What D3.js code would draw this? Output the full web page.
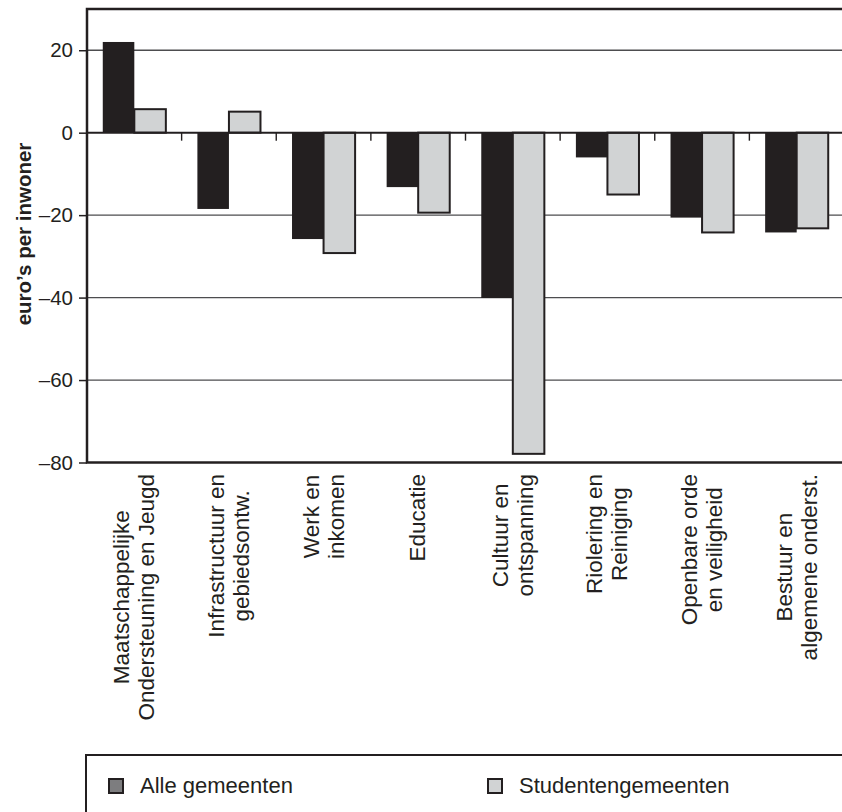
<!DOCTYPE html>
<html>
<head>
<meta charset="utf-8">
<script src="https://cdn.jsdelivr.net/npm/d3@7"></script>
<style>
  body { margin: 0; background: #fff; }
  svg { display: block; font-family: "Liberation Sans", Arial, sans-serif; }
</style>
</head>
<body>
<svg width="842" height="812"></svg>
<script>
// categories, one entry per group, split over the label lines
const categories = [
  ['Maatschappelijke', 'Ondersteuning en Jeugd'],
  ['Infrastructuur en', 'gebiedsontw.'],
  ['Werk en', 'inkomen'],
  ['Educatie'],
  ['Cultuur en', 'ontspanning'],
  ['Riolering en', 'Reiniging'],
  ['Openbare orde', 'en veiligheid'],
  ['Bestuur en', 'algemene onderst.']
];
const alleGemeenten = [22, -18.5, -25.8, -13.2, -40.1, -6, -20.6, -24.2];
const studentengemeenten = [5.7, 5.1, -29.2, -19.4, -77.9, -15, -24.2, -23.2];
const seriesNames = ['Alle gemeenten', 'Studentengemeenten'];
const yTicks = [20, 0, -20, -40, -60, -80];
const gridValues = [20, -20, -40, -60];

const svg = d3.select('svg');
const ink = '#231f20';
const plotLeft = 87, plotRight = 844, plotTop = 9, plotBottom = 462.5;

const x0 = d3.scaleBand()
  .domain(d3.range(categories.length))
  .range([plotLeft, plotRight])
  .paddingInner(1 / 3)
  .paddingOuter(1 / 6);
const x1 = d3.scaleBand().domain([0, 1]).range([0, x0.bandwidth()]);
const y = d3.scaleLinear().domain([-80, 30]).range([plotBottom, plotTop]);

// gridlines behind the bars
svg.append('g')
  .selectAll('line')
  .data(gridValues)
  .join('line')
  .attr('x1', plotLeft).attr('x2', plotRight)
  .attr('y1', d => y(d)).attr('y2', d => y(d))
  .attr('stroke', '#4d4d4f')
  .attr('stroke-width', 1.3);

// bars
const rows = categories.map((c, i) => ({ i, vals: [alleGemeenten[i], studentengemeenten[i]] }));
const groups = svg.append('g')
  .selectAll('g')
  .data(rows)
  .join('g')
  .attr('transform', d => `translate(${x0(d.i)},0)`);

groups.selectAll('rect')
  .data(d => d.vals)
  .join('rect')
  .attr('x', (d, j) => x1(j))
  .attr('width', x1.bandwidth())
  .attr('y', d => y(Math.max(0, d)))
  .attr('height', d => Math.abs(y(d) - y(0)))
  .attr('fill', (d, j) => j ? '#d1d3d4' : ink)
  .attr('stroke', (d, j) => j ? ink : 'none')
  .attr('stroke-width', 2);

// zero line and the small category ticks under it
svg.append('line')
  .attr('x1', plotLeft).attr('x2', plotRight)
  .attr('y1', y(0)).attr('y2', y(0))
  .attr('stroke', ink).attr('stroke-width', 2);

svg.append('g')
  .selectAll('line')
  .data(d3.range(1, categories.length + 1))
  .join('line')
  .attr('x1', k => plotLeft + k * x0.step()).attr('x2', k => plotLeft + k * x0.step())
  .attr('y1', y(0)).attr('y2', y(0) + 8)
  .attr('stroke', ink).attr('stroke-width', 1.4);

// y axis
const yAxis = svg.append('g')
  .attr('transform', `translate(${plotLeft},0)`)
  .call(d3.axisLeft(y)
    .tickValues(yTicks)
    .tickSize(8)
    .tickPadding(6)
    .tickFormat(d => d < 0 ? '\u2013' + Math.abs(d) : d));
yAxis.select('.domain').remove();
yAxis.selectAll('line').attr('stroke', ink).attr('stroke-width', 1.5);
yAxis.selectAll('text')
  .attr('fill', ink)
  .style('font-size', '20.5px')
  .style('font-family', '"Liberation Sans", Arial, sans-serif');

// frame (right side runs past the page edge)
svg.append('rect')
  .attr('x', plotLeft).attr('y', plotTop)
  .attr('width', plotRight - plotLeft + 10).attr('height', plotBottom - plotTop)
  .attr('fill', 'none')
  .attr('stroke', ink).attr('stroke-width', 2.5);

// category labels, rotated, block top at 475
const labels = svg.append('g')
  .selectAll('g')
  .data(categories)
  .join('g')
  .attr('transform', (d, i) => `translate(${x0(i) + x0.bandwidth() / 2},474) rotate(-90)`);

labels.each(function(lines) {
  const g = d3.select(this);
  const offs = lines.length === 1 ? [7] : [-5, 20];
  const t = g.selectAll('text')
    .data(lines)
    .join('text')
    .attr('y', (d, k) => offs[k])
    .attr('text-anchor', 'middle')
    .attr('fill', ink)
    .style('font-size', '22.5px')
    .text(d => d);
  let maxLen = 0;
  t.each(function() { maxLen = Math.max(maxLen, this.getComputedTextLength()); });
  t.attr('x', -maxLen / 2);
});

// y axis title
svg.append('text')
  .attr('transform', 'translate(31,234) rotate(-90)')
  .attr('text-anchor', 'middle')
  .attr('fill', ink)
  .style('font-size', '20.5px')
  .style('font-weight', 'bold')
  .text('euro\u2019s per inwoner');

// legend
svg.append('rect')
  .attr('x', 86).attr('y', 755)
  .attr('width', 800).attr('height', 120)
  .attr('fill', 'none')
  .attr('stroke', ink).attr('stroke-width', 2);

const legendX = [109, 488];
const legendFill = ['#7d7d7f', '#d1d3d4'];
const leg = svg.append('g')
  .selectAll('g')
  .data(seriesNames)
  .join('g')
  .attr('transform', (d, i) => `translate(${legendX[i]},779)`);
leg.append('rect')
  .attr('width', 14).attr('height', 14)
  .attr('fill', (d, i) => legendFill[i])
  .attr('stroke', ink).attr('stroke-width', 2);
leg.append('text')
  .attr('x', 31).attr('y', 14)
  .attr('fill', ink)
  .style('font-size', '22px')
  .text(d => d);
</script>
</body>
</html>
